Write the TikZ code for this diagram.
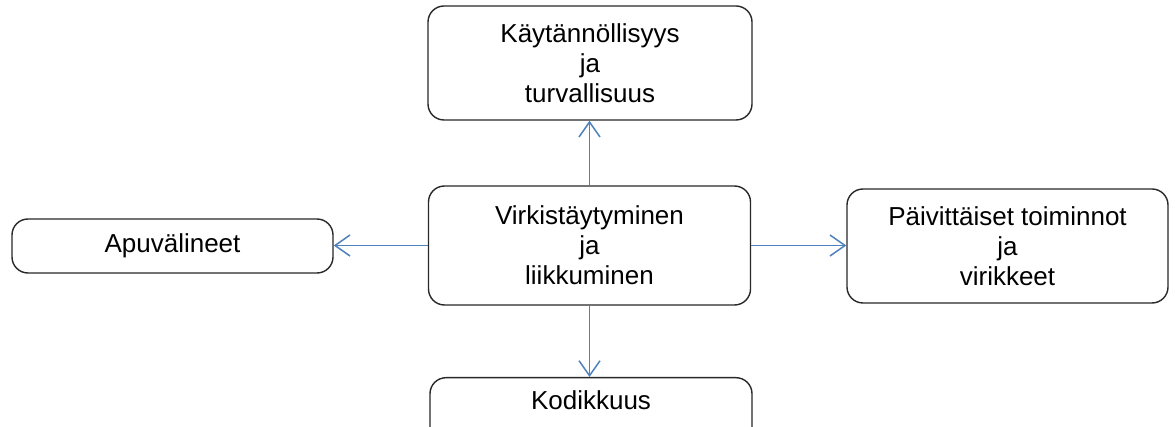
\documentclass[tikz,border=0pt]{standalone}
\usepackage{fontspec}
\setmainfont{Liberation Sans}
\usetikzlibrary{arrows.meta}
\definecolor{linkblue}{RGB}{79,129,189}
\definecolor{edge}{RGB}{40,40,40}
\tikzset{
  x=1pt, y=-1pt,
  card/.style={draw=edge, line width=1.4pt, rounded corners=16pt, fill=white,
    align=center, inner sep=0pt, font=\fontsize{26}{30}\selectfont},
  link/.style={draw=linkblue, line width=1.5pt,
    -{Straight Barb[length=15pt, width=21pt, line width=1.5pt]}}
}
\begin{document}
\begin{tikzpicture}
  \useasboundingbox (0,0) rectangle (1175,427);
  \clip (0,0) rectangle (1175,427);
  \fill[white] (0,0) rectangle (1175,427);

  % boxes
  \node[card, minimum width=324pt, minimum height=114pt] (top) at (590,63)
    {Käytännöllisyys\\ja\\turvallisuus};
  \node[card, minimum width=322pt, minimum height=119pt] (mid) at (589.5,245.5)
    {Virkistäytyminen\\ja\\liikkuminen};
  \node[card, minimum width=321pt, minimum height=54pt] (left) at (172.5,246)
    {Apuvälineet};
  \node[card, minimum width=321pt, minimum height=114pt] (right) at (1007.5,246)
    {Päivittäiset toiminnot\\ja\\virikkeet};
  \node[card, anchor=north, minimum width=322pt, text height=32pt, text depth=40pt]
    (bottom) at (591,377) {Kodikkuus};

  % connectors, kept straight from the middle box's side centres
  \draw[link] (mid.north) -- (mid.north |- top.south);
  \draw[link] (mid.south) -- (mid.south |- bottom.north);
  \draw[link] (mid.west) -- (mid.west -| left.east);
  \draw[link] (mid.east) -- (mid.east -| right.west);
\end{tikzpicture}
\end{document}
